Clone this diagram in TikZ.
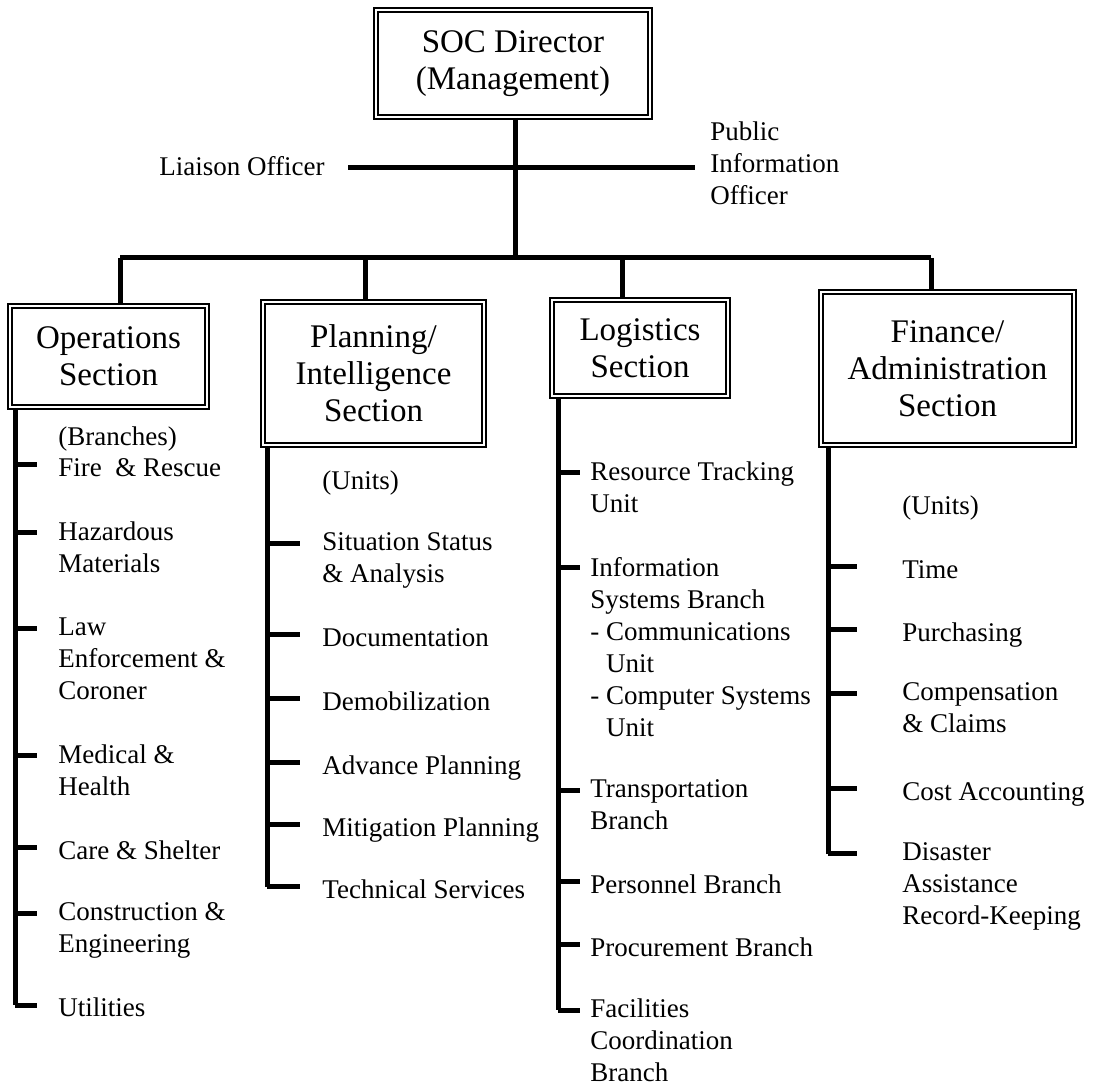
\documentclass[tikz,border=0pt]{standalone}
\usepackage{fontspec}
\setmainfont{Liberation Serif}
\usetikzlibrary{positioning}

\newcommand\boxfont{\fontsize{16.5}{18.5}\selectfont}
\newcommand\listfont{\fontsize{13.5}{16}\selectfont}

\tikzset{
  secbox/.style={draw,double,double distance=1pt,line width=1pt,
    align=center,inner sep=0pt,font=\boxfont},
  entry/.style={anchor=north west,yshift=11.2pt,align=left,inner sep=0pt,
    font=\listfont,execute at begin node=\strut},
  bar/.style={line width=2.5pt},
}

\begin{document}
\begin{tikzpicture}[x=0.5pt,y=-0.5pt]
  \useasboundingbox (0,0) rectangle (1094,1085);

  \node[secbox,minimum width=137pt,minimum height=53.5pt] (soc) at (513,63.5) {SOC Director\\(Management)};
  \node[secbox,minimum width=98.5pt,minimum height=50.5pt] (ops) at (108.5,356.5) {Operations\\Section};
  \node[secbox,minimum width=110.5pt,minimum height=71.5pt] (plan) at (373.5,373.5) {Planning/\\Intelligence\\Section};
  \node[secbox,minimum width=88pt,minimum height=48pt] (logi) at (640,348) {Logistics\\Section};
  \node[secbox,minimum width=126.5pt,minimum height=76.5pt] (fin) at (947.5,368.5) {Finance/\\Administration\\Section};

  \node[entry,anchor=north east] (liaison) at (325,175) {Liaison Officer};
  \node[entry] (pio) at (710,144) {Public\\Information\\Officer};

  \coordinate (hub) at (515,258);
  \coordinate (lo) at (348,168);
  \coordinate (pi) at (695,168);
  \coordinate (b1) at (120,258);
  \coordinate (b2) at (365,258);
  \coordinate (b3) at (622,258);
  \coordinate (b4) at (931,258);

  \draw[bar] (hub |- soc.south) -- (hub);
  \draw[bar] (lo) -- (pi);
  \draw[bar] (b1) -- (b4);
  \draw[bar] (b1) -- (b1 |- ops.north);
  \draw[bar] (b2) -- (b2 |- plan.north);
  \draw[bar] (b3) -- (b3 |- logi.north);
  \draw[bar] (b4) -- (b4 |- fin.north);

  % operations
  \coordinate (opsx) at (15,0);
  \coordinate (opsend) at (37,0);
  \node[entry] (o0) at (58,445) {(Branches)};
  \foreach \nm/\yb/\txt in {o1/476/{Fire\ \ \& Rescue},o2/544/{Hazardous\\Materials},
      o3/640/{Law\\Enforcement \&\\Coroner},o4/767/{Medical \&\\Health},o5/859/{Care \& Shelter},
      o6/925/{Construction \&\\Engineering},o7/1016/{Utilities}}{
    \node[entry] (\nm) at (58,\yb) {\txt};
    \draw[bar] ([yshift=-5.7pt]\nm.north west -| opsx) -- ([yshift=-5.7pt]\nm.north west -| opsend);
  }
  \draw[bar] (opsx |- ops.south) -- ([yshift=-5.7pt]o7.north west -| opsx);

  % planning
  \coordinate (planx) at (267,0);
  \coordinate (planend) at (300,0);
  \node[entry] (p0) at (322,489) {(Units)};
  \foreach \nm/\yb/\txt in {p1/555/{Situation Status\\\& Analysis},p2/646/{Documentation},
      p3/710/{Demobilization},p4/774/{Advance Planning},p5/836/{Mitigation Planning},
      p6/898/{Technical Services}}{
    \node[entry] (\nm) at (322,\yb) {\txt};
    \draw[bar] ([yshift=-5.7pt]\nm.north west -| planx) -- ([yshift=-5.7pt]\nm.north west -| planend);
  }
  \draw[bar] (planx |- plan.south) -- ([yshift=-5.7pt]p6.north west -| planx);

  % logistics
  \coordinate (logx) at (558,0);
  \coordinate (logend) at (580,0);
  \foreach \nm/\yb/\txt in {l1/484/{Resource Tracking\\Unit},
      l2/579/{Information\\Systems Branch\\- Communications\\\phantom{- }Unit\\- Computer Systems\\\phantom{- }Unit},
      l3/802/{Transportation\\Branch},l4/893/{Personnel Branch},l5/956/{Procurement Branch},
      l6/1021/{Facilities\\Coordination\\Branch}}{
    \node[entry] (\nm) at (590,\yb) {\txt};
    \draw[bar] ([yshift=-5.7pt]\nm.north west -| logx) -- ([yshift=-5.7pt]\nm.north west -| logend);
  }
  \draw[bar] (logx |- logi.south) -- ([yshift=-5.7pt]l6.north west -| logx);

  % finance
  \coordinate (finx) at (828,0);
  \coordinate (finend) at (857,0);
  \node[entry] (f0) at (902,514) {(Units)};
  \foreach \nm/\yb/\txt in {f1/578/{Time},f2/641/{Purchasing},f3/705/{Compensation\\\& Claims},
      f4/800/{Cost Accounting},f5/865/{Disaster\\Assistance\\Record-Keeping}}{
    \node[entry] (\nm) at (902,\yb) {\txt};
    \draw[bar] ([yshift=-5.7pt]\nm.north west -| finx) -- ([yshift=-5.7pt]\nm.north west -| finend);
  }
  \draw[bar] (finx |- fin.south) -- ([yshift=-5.7pt]f5.north west -| finx);
\end{tikzpicture}
\end{document}
